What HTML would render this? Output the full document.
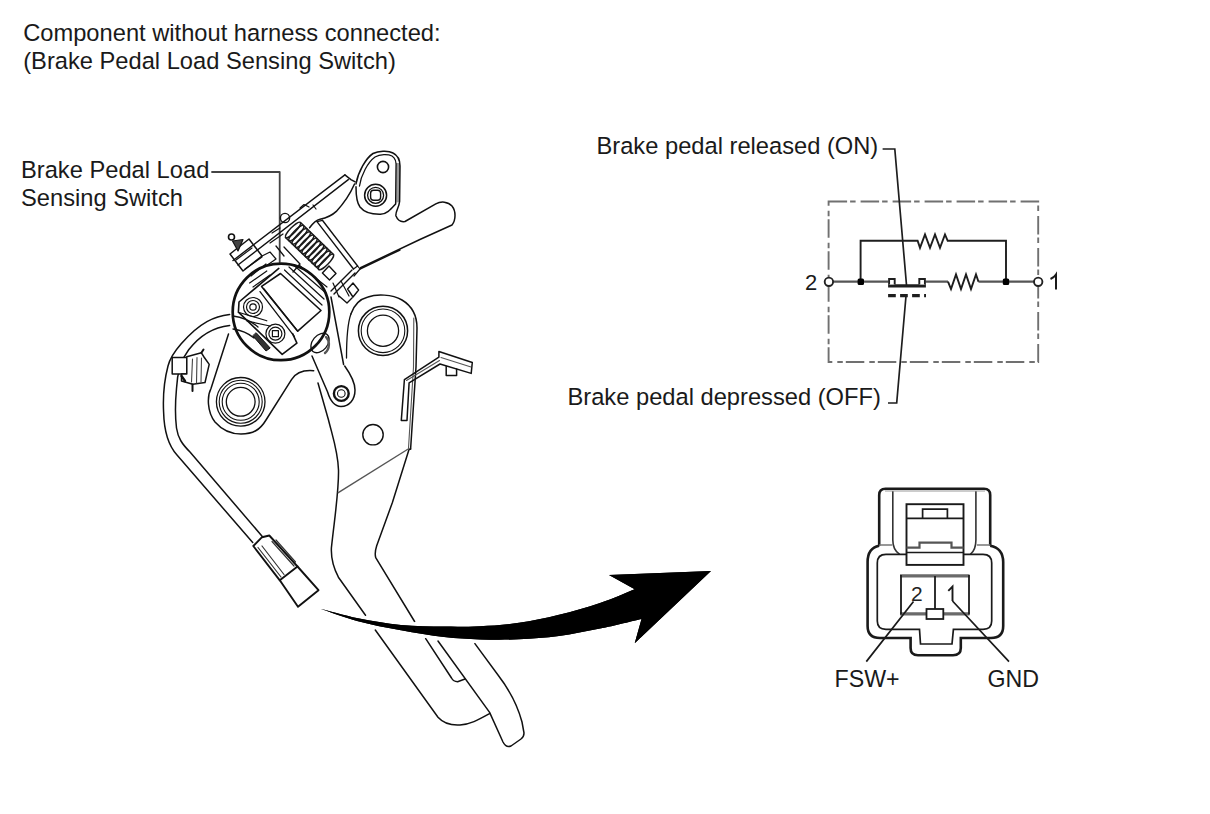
<!DOCTYPE html>
<html><head><meta charset="utf-8">
<style>
html,body{margin:0;padding:0;background:#fff;width:1210px;height:814px;overflow:hidden}
svg{position:absolute;left:0;top:0;display:block}
text{font-family:"Liberation Sans",sans-serif;font-size:23.7px;fill:#1a1a1a}
</style></head><body>
<svg width="1210" height="814" viewBox="0 0 1210 814">
<!-- texts -->
<text x="23.2" y="41.3">Component without harness connected:</text>
<text x="23.2" y="69.3">(Brake Pedal Load Sensing Switch)</text>
<text x="21" y="178.4">Brake Pedal Load</text>
<text x="21" y="206.4">Sensing Switch</text>
<text x="596.5" y="154">Brake pedal released (ON)</text>
<text x="567.5" y="405.2">Brake pedal depressed (OFF)</text>
<text x="834.5" y="686.5" style="font-size:23.2px">FSW+</text>
<text x="987.5" y="686.5" style="font-size:23.2px">GND</text>
<text x="805" y="290" style="font-size:22px">2</text>
<path d="M1056 289.5V274.5Q1054 277.5 1050.5 279" fill="none" stroke="#1a1a1a" stroke-width="2"/>

<!-- circuit -->
<g fill="none" stroke="#1e1e1e" stroke-width="1.9">
  <rect x="828.6" y="201.5" width="209.6" height="160.5" stroke="#707070" stroke-width="1.9" stroke-dasharray="18.5,3,5.5,5"/>
  <path d="M833 281.7H888.5 M925.5 281.7H948 M978.5 281.7H1034" stroke="#555" stroke-width="2.2"/>
  <path d="M948 281.7 L951 289 L956 274.5 L961 289 L966 274.5 L971 289 L976 274.5 L978.5 281.7"/>
  <path d="M860.6 281.7V240.8H917.6 L920 247.9 L925 234.5 L930 247.9 L935 234.5 L940 247.9 L945 234.5 L947.7 240.8H1006V281.7"/>
  <path d="M888.1 285.9H925.9" stroke-width="3.4"/>
  <path d="M888.1 295.7H926" stroke-dasharray="7.7,4.3" stroke-width="3.2"/>
  <path d="M882.6 149H894.8L906.5 285 M906 296L896.7 403H888" stroke-width="1.7"/>
  <path d="M889.1 284.5V279H894.7V284.5 M919.3 284.5V279H924.9V284.5" fill="#fff" stroke-width="1.9"/>
</g>
<circle cx="828.9" cy="281.8" r="4.2" fill="#fff" stroke="#222" stroke-width="1.9"/>
<circle cx="1038.2" cy="281.8" r="4.2" fill="#fff" stroke="#222" stroke-width="1.9"/>
<rect x="857.6" y="278.6" width="6.4" height="6.4" rx="1.5" fill="#000"/>
<rect x="1002.8" y="278.6" width="6.4" height="6.4" rx="1.5" fill="#000"/>

<!-- connector -->
<g fill="none" stroke="#1a1a1a" stroke-width="2">
  <path d="M879.2 545.7V495Q879.2 488.7 885.5 488.7H984Q990.2 488.7 990.2 495V545.7" stroke-width="2.6"/>
  <path d="M879.2 545.7Q867.6 548 867.6 562V626Q867.6 638 880 638H910.6V648Q910.6 655.2 918 655.2H953Q960.8 655.2 960.8 648V638H991Q1003.2 638 1003.2 626V562Q1003 548 990.2 545.7" stroke-width="2.6"/>
  <path d="M892.8 490.9V540Q892.8 550 899.7 554.4 M975.9 490.9V540Q975.9 550 970.3 554.4" stroke-width="1.6" stroke="#333"/>
  <path d="M885 491H985" stroke-width="1.2" stroke="#999"/>
  <path d="M879.2 545H892 M977 545H990.2" stroke-width="1.4" stroke="#777"/>
  <path d="M906.5 554.4H886Q877.3 554.4 877.3 563V621Q877.3 629.3 886 629.3H919.5L920.5 644H952L953.4 629.3H983Q991.7 629.3 991.7 621V563Q991.7 554.4 983 554.4H963.5" stroke-width="1.7"/>
  <rect x="906.5" y="504.2" width="57" height="60.7" stroke-width="1.9"/>
  <path d="M906.5 518.4H963.5 M922.6 518.4V509.1H947.4V518.4" stroke-width="1.7"/>
  <path d="M906.5 547.6H919.5V542.6H951.5V547.6H963.5" stroke-width="2.2" stroke="#555"/>
  <path d="M906.5 552.5H963.5" stroke-width="1.7"/>
  <path d="M900 575.8H969.5 M900 613.8H969.5" stroke="#6a6a6a" stroke-width="3.2"/>
  <path d="M901 575V614.5 M969 575V614.5" stroke-width="1.8"/>
  <path d="M935 576V609" stroke-width="1.8"/>
  <rect x="926.5" y="609" width="16.8" height="10" fill="#fff" stroke-width="1.8"/>
  <path d="M913.5 601.5L866.3 661.6 M952.5 601L1009 661.6" stroke-width="1.7"/>
</g>
<text x="911" y="601" style="font-size:21px;fill:#222">2</text>
<path d="M952.5 601V586.5L948.3 590.8" fill="none" stroke="#1a1a1a" stroke-width="1.9"/>


<!-- pedal -->
<g fill="none" stroke="#111" stroke-width="1.5" stroke-linejoin="round" stroke-linecap="round">
  <!-- leader -->
  <path d="M212 172H279.7V262" stroke="#444" stroke-width="1.8"/>
  <!-- ear bracket -->
  <path d="M396 163L400 163L399.8 201.5L395.8 203Z" fill="#9a9a9a" stroke="none"/>
  <path d="M356 184C358 172 366 158 373 153.5C378 151 388 150 393 153C397 155 400 159 400 166L399.6 201.4C399 208 395 212 396 216C398 221 402 222 405 221.5L435.8 203.9C441 201 448 201.5 452 206C456 211 456 220 452 225L419.9 239.5L360.5 267.7"/>
  <path d="M359.5 186C361 175 368 162 375 157C380 154 388 154 392 156C395.5 158 396.5 162 396 168L395.6 203.9" stroke-width="1.3"/>
  <path d="M356 186.7C356 195 357 203 360 207C364 212 372 214.5 380.5 214.3C387 214 391 209 395.6 203.9" />
  <circle cx="383" cy="167" r="5.6" stroke-width="1.6"/>
  <circle cx="375.6" cy="195.3" r="11" stroke-width="1.5"/>
  <circle cx="375.6" cy="195.3" r="8" stroke-width="1.3"/>
  <rect x="370.6" y="190.3" width="10" height="10" rx="3" stroke-width="1.4"/>
  <!-- lever bar -->
  <path d="M344.9 174.9L350.9 179.6L355.2 181.8" />
  <path d="M344.9 174.9L233 260.5 M348.3 179.6L238 265" stroke-width="1.4"/>
  <path d="M354.5 184C351 192 346 201 336.3 211.4C332 215.5 326 218 320 219.2C316 220 313 223 309.6 227.8" />
  <path d="M309 207L304 204.5L300 208 M313 205L316 209" stroke-width="1.2"/>
  <!-- left stub/block -->
  <path d="M230 254L249 239L262 256L243 271Z" stroke-width="1.5"/>
  <circle cx="231.5" cy="237" r="3" stroke-width="1.6"/>
  <path d="M232.5 241L243 239.5L238 251Z" fill="#444" stroke-width="1.2"/>
  <path d="M236 260L252 248 M245 269L262 257 M251 276L266 264" stroke-width="1.2"/>
  <path d="M262 256L270 252L276 259L266 266" stroke-width="1.2"/>
  <!-- big circle + switch body -->
  <circle cx="281" cy="311.9" r="48.3" stroke-width="2.7" stroke="#111"/>
  <path d="M261.6 286.4L280.5 273.5L321 310.5L297.7 331.2Z" stroke-width="1.6"/>
  <path d="M239 302L278.8 268.4 M239 302L238.4 312.2L282.2 354.4L296.9 343.2L292.6 333.7" stroke-width="1.6"/>
  <path d="M260 291.6L294.3 336.3 M264 289L297.7 331.2" stroke-width="1.3"/>
  <path d="M238.4 312.2L266.8 320.8 M247 321L270 326" stroke-width="1.2"/>
  <path d="M284.5 270L322 305 M289 267L324 299 M294 265.5L326 293 M299 265L327 287" stroke-width="1.2"/>
  <path d="M249.6 283L266.8 271 M253 287L270 275" stroke-width="1.2"/>
  <circle cx="253" cy="307" r="9.5" stroke-width="1.2"/>
  <circle cx="253" cy="307" r="6.5" stroke-width="1.2"/>
  <circle cx="253" cy="307" r="3.2" stroke-width="1.2"/>
  <circle cx="275.4" cy="333.7" r="9.5" stroke-width="1.2"/>
  <circle cx="275.4" cy="333.7" r="6.5" stroke-width="1.2"/>
  <rect x="272.4" y="330.7" width="6" height="6" stroke-width="1.2"/>
  <path d="M256.4 333L270.2 348L266 351L253 336Z" fill="#333" stroke-width="1"/>
  <path d="M233 316C240 317 250 320 258 327 M233 329C240 330 248 333 254 338" stroke-width="1.3"/>
      <!-- spring small circle -->
  <circle cx="285" cy="218" r="4.6" stroke-width="1.4"/>
  <path d="M280 228L272 233 M283 234L270 243" stroke-width="1.2"/>
  <!-- spring -->
  <g stroke="#1a1a1a" stroke-width="1.4">
    <ellipse cx="293.0" cy="230.0" rx="10.5" ry="2.8" transform="rotate(134.1 293.0 230.0)"/>
    <ellipse cx="296.3" cy="233.2" rx="10.5" ry="2.8" transform="rotate(134.1 296.3 233.2)"/>
    <ellipse cx="299.6" cy="236.4" rx="10.5" ry="2.8" transform="rotate(134.1 299.6 236.4)"/>
    <ellipse cx="302.9" cy="239.6" rx="10.5" ry="2.8" transform="rotate(134.1 302.9 239.6)"/>
    <ellipse cx="306.2" cy="242.8" rx="10.5" ry="2.8" transform="rotate(134.1 306.2 242.8)"/>
    <ellipse cx="309.5" cy="246.0" rx="10.5" ry="2.8" transform="rotate(134.1 309.5 246.0)"/>
    <ellipse cx="312.8" cy="249.2" rx="10.5" ry="2.8" transform="rotate(134.1 312.8 249.2)"/>
    <ellipse cx="316.1" cy="252.4" rx="10.5" ry="2.8" transform="rotate(134.1 316.1 252.4)"/>
    <ellipse cx="319.4" cy="255.6" rx="10.5" ry="2.8" transform="rotate(134.1 319.4 255.6)"/>
    <ellipse cx="322.7" cy="258.8" rx="10.5" ry="2.8" transform="rotate(134.1 322.7 258.8)"/>
    <ellipse cx="326.0" cy="262.0" rx="10.5" ry="2.8" transform="rotate(134.1 326.0 262.0)"/>
    <path d="M285.5 237.5L319 269.5 M300.5 222.5L333.5 254.5" stroke-width="1.6"/>
  </g>
  <path d="M284 247L300 264L293 272 M276 246L284 256" stroke-width="1.3"/>
  <path d="M322.4 273L329 266L336 273.5L329.5 280Z" stroke-width="1.4"/>
  <path d="M331 291L352 270 M334 294L355 273" stroke-width="1.4"/>
  <path d="M347.6 289L353 283L358.6 290L353 297Z M339 296L347 303L352 298" stroke-width="1.4"/>
  <!-- bracket plate lines right of spring -->
  <path d="M317 221.6L353.5 269 M322.4 220.3L357.6 266 M360 269L400 250" stroke-width="1.4"/>
  <path d="M317 221.6L322.4 220.3 M353.5 269L357.6 266L360 269L354 276" stroke-width="1.2"/>
  <!-- right plate with big hole -->
  <path d="M350.9 314C354 305 360 299 368 297C376 294 392 294 402 300C412 306 417 315 417 328L416 367L410.6 449" />
  <path d="M350.9 314C347 325 346.5 345 346.5 358" stroke-width="1.3"/>
  <path d="M413.8 318L413.5 367L408.5 448" stroke-width="1.1" stroke="#555"/>
  <circle cx="383" cy="330.8" r="24.6"/>
  <circle cx="383" cy="330.8" r="21.8" stroke-width="1.1"/>
  <circle cx="383" cy="330.8" r="15.6" stroke-width="1.3"/>
  <!-- link arm -->
  <path d="M331 297L343.6 364.5 M312 356L327.5 391.8C330 400 334 406.5 341 406.5C349 406.5 355 400 355 390C355 381 349 372 344.7 366" />
  <path d="M333 283L339 297 M341 281L349 296" stroke-width="1.2"/>
  <circle cx="341.3" cy="393.5" r="7.4" stroke-width="2.4"/>
  <circle cx="341.3" cy="393.5" r="3.8" stroke-width="1.1"/>
  <ellipse cx="320" cy="343" rx="7.5" ry="11" transform="rotate(40 320 343)" stroke-width="1.3"/>
  <path d="M326 337C330 341 330 349 325 353" stroke-width="2.4" stroke="#555"/>
  <!-- pedal arm -->
  <path d="M318 383L328.5 420C333 438 338 452 338.5 470C339 490 335 515 331.4 547.8C331 556 332 565 338.4 577.2L365.5 615.3 M375.3 630L438 717.3C444 724 452 725.5 460 725C470 724.5 478 720 489.6 713.6" />
  <path d="M410.6 449L409 449.5L392.4 502.5L376.7 545.8C375 551 375 555 375.7 557.6L414.6 621.5 M425.7 638.7L451.5 678C453 681 455 681.7 457.6 681.7L465 679" />
  <path d="M338.3 492.7L409 448.5" stroke-width="1.4" stroke="#555"/>
  <circle cx="373" cy="434.7" r="10.2" stroke-width="1.4"/>
  <!-- pedal pad -->
  <path d="M438 641L489.6 712.4L503 742Q506 748 511 746L521 739Q524 737 524 733L522 722C517 703 508 688 498 675L474.9 643.6" />
  <!-- clip on right -->
  <path d="M401.3 420.4L404.4 379.7L438.9 357.2L438.9 351.5L472.3 362.5L471.2 373.4L440 364L409.1 382.8L407 420.4Z" stroke-width="1.5"/>
  <path d="M406.5 380.5L439.5 360.5 M441 357.5L471 367" stroke-width="1.1" stroke="#555"/>
  <path d="M446.2 366.5V375.5H456.6V369" stroke-width="1.5"/>
  <!-- left plate with big hole -->
  <path d="M228.5 334L211 388.5C207 396 207 412 215 422C222 430 232 434 241 434C253 434 260 430 266 420L291.5 379.6C297 371 305 370 313.7 370.8" />
  <circle cx="240.7" cy="401.8" r="24.3" stroke-width="1.3"/>
  <circle cx="240.7" cy="401.8" r="21.5" stroke-width="1.1"/>
  <circle cx="240.7" cy="401.8" r="18.5" stroke-width="1.1"/>
  <circle cx="240.7" cy="401.8" r="14.4" stroke-width="1.3"/>
  <!-- harness wire -->
  <path d="M229.6 314.4C215 316 200 322 181 344C174 352 170 358 168 366C163 385 163 400 163.6 412C164 428 167 444 177 455L252.7 542.5" />
  <path d="M229.6 325.4C215 327 200 335 188.7 349.8C180 361 177 378 176.5 388.5C175 405 175 416 176.5 428C178 438 182 444 190 452L262.5 536.7" />
  <!-- wire clip -->
  <path d="M172.2 357.5L186.8 357.5L186.8 373.9L172.2 373.9Z" stroke-width="1.5" fill="#fff"/>
  <path d="M186.8 356.7L201.4 352.8L204 357L209.2 364.4L205 382.5L192.8 384.2L181.5 381L181.5 374L186.8 373.9Z" stroke-width="1.5" fill="#fff"/>
  <path d="M192.5 359L191.5 382 M197 357.5L196.5 383 M201.5 358L201 382" stroke-width="1.1" stroke="#444"/>
  <path d="M201.4 352.8L203.5 349.5 M192.5 384.5L192.5 391" stroke-width="2"/>
  <path d="M181.5 376L185 381" stroke-width="2.4"/>
  <!-- wire connector -->
  <path d="M269.3 535.5L297.5 566.5L279.8 580.3L253.3 546L262 537.2Z" stroke-width="1.9"/>
  <path d="M297.5 566.5L318.5 590.2L298 606.8L279.8 580.3" stroke-width="1.9"/>
  <path d="M258 547.5L281 577 M262 546L284 574.5 M272 541.5L294 566 M276 540L295.5 562" stroke-width="1.2" stroke="#333"/>
</g>

<!-- arrow -->
<path d="M320.4 608.7 C326.7 610.3 344.6 615.5 358.0 618.2 C371.4 620.9 386.7 623.5 401.0 624.9 C415.3 626.3 430.8 626.4 444.0 626.6 C457.2 626.8 467.5 626.8 480.0 626.2 C492.5 625.6 505.8 624.7 519.0 622.8 C532.2 620.9 545.5 618.1 559.0 614.8 C572.5 611.5 587.4 607.3 600.0 603.0 C612.6 598.7 628.9 591.5 634.7 589.2 L609 575 L711 571 L634.7 643.2 L641.5 619 C634.6 620.6 613.8 625.8 600.0 628.6 C586.2 631.4 572.5 634.2 559.0 636.0 C545.5 637.8 532.2 638.7 519.0 639.3 C505.8 639.9 492.5 639.8 480.0 639.4 C467.5 639.0 457.2 638.5 444.0 637.0 C430.8 635.5 415.3 632.9 401.0 630.3 C386.7 627.7 371.4 624.8 358.0 621.2 C344.6 617.6 326.7 610.8 320.4 608.7Z" fill="#000" stroke="#fff" stroke-width="7" stroke-linejoin="round" paint-order="stroke"/>
<path d="M320.4 608.7 C326.7 610.3 344.6 615.5 358.0 618.2 C371.4 620.9 386.7 623.5 401.0 624.9 C415.3 626.3 430.8 626.4 444.0 626.6 C457.2 626.8 467.5 626.8 480.0 626.2 C492.5 625.6 505.8 624.7 519.0 622.8 C532.2 620.9 545.5 618.1 559.0 614.8 C572.5 611.5 587.4 607.3 600.0 603.0 C612.6 598.7 628.9 591.5 634.7 589.2 L609 575 L711 571 L634.7 643.2 L641.5 619 C634.6 620.6 613.8 625.8 600.0 628.6 C586.2 631.4 572.5 634.2 559.0 636.0 C545.5 637.8 532.2 638.7 519.0 639.3 C505.8 639.9 492.5 639.8 480.0 639.4 C467.5 639.0 457.2 638.5 444.0 637.0 C430.8 635.5 415.3 632.9 401.0 630.3 C386.7 627.7 371.4 624.8 358.0 621.2 C344.6 617.6 326.7 610.8 320.4 608.7Z" fill="#000"/>
</svg>
</body></html>
